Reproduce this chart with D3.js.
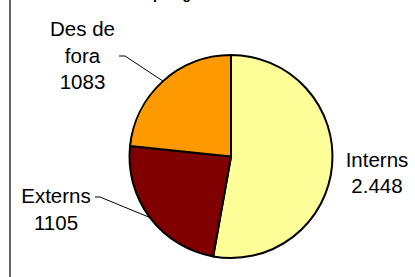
<!DOCTYPE html>
<html>
<head>
<meta charset="utf-8">
<script src="https://cdn.jsdelivr.net/npm/d3@7"></script>
<style>
  body { margin: 0; background: #fff; }
  svg { display: block; }
  text { font-family: Arial, "Liberation Sans", sans-serif; fill: #000; }
</style>
</head>
<body>
<div id="chart"></div>
<script>
// chart data
const categories = ["Interns", "Externs", "Des de fora"];
const values = [2448, 1105, 1083];
const valueLabels = ["2.448", "1105", "1083"];
const labelLines = [["Interns"], ["Externs"], ["Des de", "fora"]];
const colors = ["#FFFF99", "#800000", "#FF9900"];
const title = "Tipologia d'usuaris 2007";

const width = 415, height = 277;
const cx = 231, cy = 156.5, radius = 101.5;

const svg = d3.select("#chart")
              .append("svg")
              .attr("width", width)
              .attr("height", height);

// left frame edge
svg.append("line")
   .attr("x1", 10).attr("x2", 10)
   .attr("y1", 0).attr("y2", height)
   .attr("stroke", "#000")
   .attr("stroke-width", 1.2);

// title, mostly above the visible area (only descenders show)
svg.append("text")
   .attr("x", 222)
   .attr("y", -0.8)
   .attr("text-anchor", "middle")
   .style("font-weight", "bold")
   .style("font-size", "14px")
   .text(title);

const pie = d3.pie().sort(null).value(d => d);
const arcs = pie(values);
const arc = d3.arc().innerRadius(0).outerRadius(radius);

const g = svg.append("g")
             .attr("transform", `translate(${cx},${cy})`);

g.selectAll("path")
 .data(arcs)
 .enter().append("path")
 .attr("d", arc)
 .attr("fill", (d, i) => colors[i])
 .attr("stroke", "#000")
 .attr("stroke-width", 2)
 .attr("stroke-linejoin", "round");

// label placement (text centre x, first baseline y, leader elbow)
const labelPos = [
    {x: 377, y: 166.5, lead: null},
    {x: 56, y: 203.3, lead: [[95, 197], [100, 197]]},
    {x: 82.5, y: 35.7, lead: [[119, 56], [125, 56]]}
];
const lineStep = 26.8;

arcs.forEach((d, i) => {
    const pos = labelPos[i];
    const lines = labelLines[i].concat([valueLabels[i]]);
    const t = svg.append("text")
                 .attr("text-anchor", "middle")
                 .style("font-size", "20.5px");
    lines.forEach((s, k) => {
        t.append("tspan")
         .attr("x", pos.x)
         .attr("y", pos.y + k * lineStep)
         .text(s);
    });

    if (pos.lead) {
        const mid = (d.startAngle + d.endAngle) / 2;
        const edge = [cx + radius * Math.sin(mid), cy - radius * Math.cos(mid)];
        svg.append("path")
           .attr("d", d3.line()(pos.lead.concat([edge])))
           .attr("fill", "none")
           .attr("stroke", "#000")
           .attr("stroke-width", 1);
    }
});
</script>
</body>
</html>
